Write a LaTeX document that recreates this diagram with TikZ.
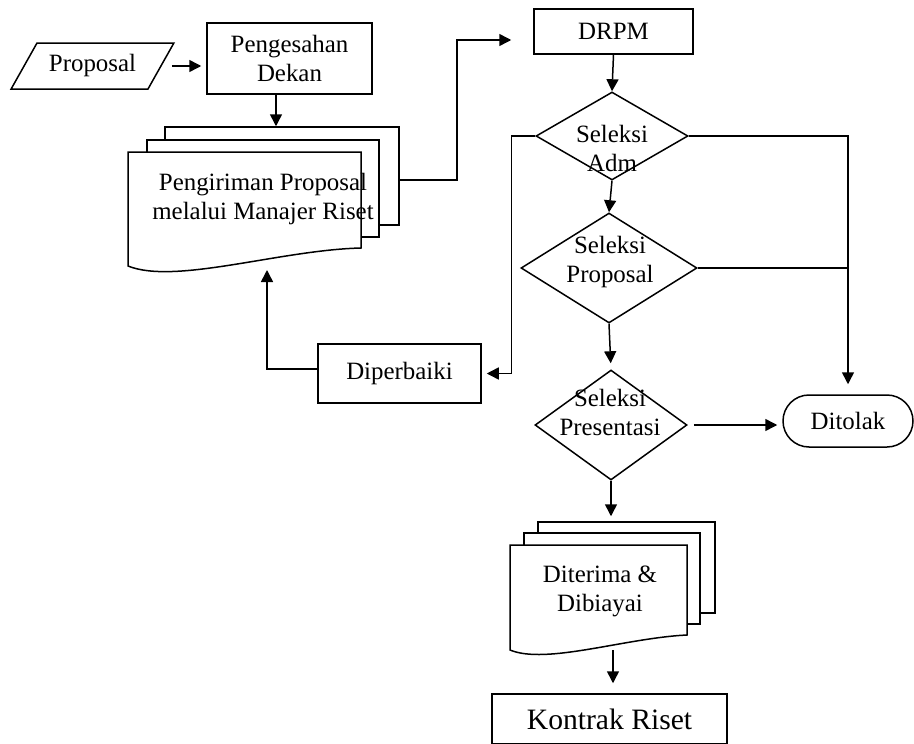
\documentclass[tikz,border=0pt]{standalone}
\usepackage{fontspec}
\setmainfont{Liberation Serif}
\usepackage{tikz}
\usetikzlibrary{shapes,arrows.meta}

\tikzset{
	kotak/.style={draw, rectangle, fill=white, inner sep=0pt, align=center},
	belah/.style={draw, diamond, inner sep=0pt},
	lembar/.style={draw, rectangle, fill=white, inner sep=0pt},
	tulisan/.style={align=center, inner sep=0pt}
}

\begin{document}
\begin{tikzpicture}[x=1pt, y=-1pt, line width=1.5pt, >={Triangle[length=12pt,width=12pt]}, font=\fontsize{24.9}{29}\selectfont]
		\useasboundingbox (0,0) rectangle (914,744);
		\node [draw, trapezium, trapezium left angle=48, trapezium right angle=132, trapezium stretches=true, minimum width=163, minimum height=46, inner sep=0pt] (proposal) at (92.5,66) {Proposal};
		\node [kotak, minimum width=165, minimum height=71] (pengesahan) at (289.5,58.5) {Pengesahan\\Dekan};
		\node [lembar, minimum width=234, minimum height=98] (kirim3) at (282,176) {};
		\node [lembar, minimum width=232, minimum height=97] (kirim2) at (263,188.5) {};
		\draw [fill=white] (128,152) -- (361,152) -- (361,248) .. controls (280,250) and (175,285) .. (128,266) -- cycle;
		\node [tulisan] (kirimtxt) at (263,199) {Pengiriman Proposal\\melalui Manajer Riset};
		\coordinate (kirimbot) at (267,264);
		\node [kotak, minimum width=159, minimum height=45] (drpm) at (613.5,31.5) {DRPM};
		\node [belah, minimum width=152, minimum height=88] (adm) at (612,136) {};
		\node [tulisan] (admtxt) at (612,148.5) {Seleksi\\Adm};
		\node [belah, minimum width=176, minimum height=110] (seleksiprop) at (609,268) {};
		\node [tulisan] (seleksiproptxt) at (610,262.5) {Seleksi\\Proposal};
		\node [belah, minimum width=152, minimum height=110] (pres) at (611,425) {};
		\node [tulisan] (prestxt) at (610,412.5) {Seleksi\\Presentasi};
		\node [kotak, minimum width=163, minimum height=59] (perbaiki) at (399.5,373.5) {Diperbaiki};
		\node [draw, rounded rectangle, minimum width=130, minimum height=52, inner sep=0pt] (tolak) at (848,421) {Ditolak};
		\node [lembar, minimum width=177, minimum height=91] (terima3) at (626.5,567.5) {};
		\node [lembar, minimum width=176, minimum height=91] (terima2) at (612,578.5) {};
		\draw [fill=white] (510,545) -- (687,545) -- (687,635) .. controls (625,638) and (546,665) .. (510,650) -- cycle;
		\node [tulisan] (terimatxt) at (600,591.5) {Diterima \&\\Dibiayai};
		\coordinate (terimabot) at (613,650);
		\node [kotak, minimum width=235, minimum height=50, font=\fontsize{29.6}{34}\selectfont] (kontrak) at (609.5,719) {Kontrak Riset};
		\draw [->, shorten <=10pt, shorten >=5pt] (proposal.east) -- (proposal.east -| pengesahan.west);
		\draw [->] ([xshift=-13.5pt]pengesahan.south) -- ([xshift=-13.5pt]pengesahan.south |- kirim3.north);
		\draw [->, shorten >=22pt] ([yshift=-4pt]kirim3.east) -- ++(57,0) |- ([yshift=-8.5pt]drpm.west);
		\draw [->] (drpm.south) -- (adm.north);
		\draw [->] (adm.south) -- (seleksiprop.north);
		\draw [->, shorten >=6pt] (seleksiprop.south) -- (pres.north);
		\draw [->, shorten >=5pt] (pres.south) -- (pres.south |- terima3.north);
		\draw [->, shorten >=10pt] (terimabot) -- (terimabot |- kontrak.north);
		\draw [->, shorten >=5pt] (adm.west) -- ++(-24,0) |- (perbaiki.east);
		\draw [->, shorten >=6pt] ([yshift=4.5pt]perbaiki.west) -| (kirimbot);
		\draw [->, shorten >=10pt] (adm.east) -| (tolak.north);
		\draw (seleksiprop.east) -- (seleksiprop.east -| tolak.north);
		\draw [->, shorten <=6pt, shorten >=5pt] (pres.east) -- (pres.east -| tolak.west);
\end{tikzpicture}
\end{document}
